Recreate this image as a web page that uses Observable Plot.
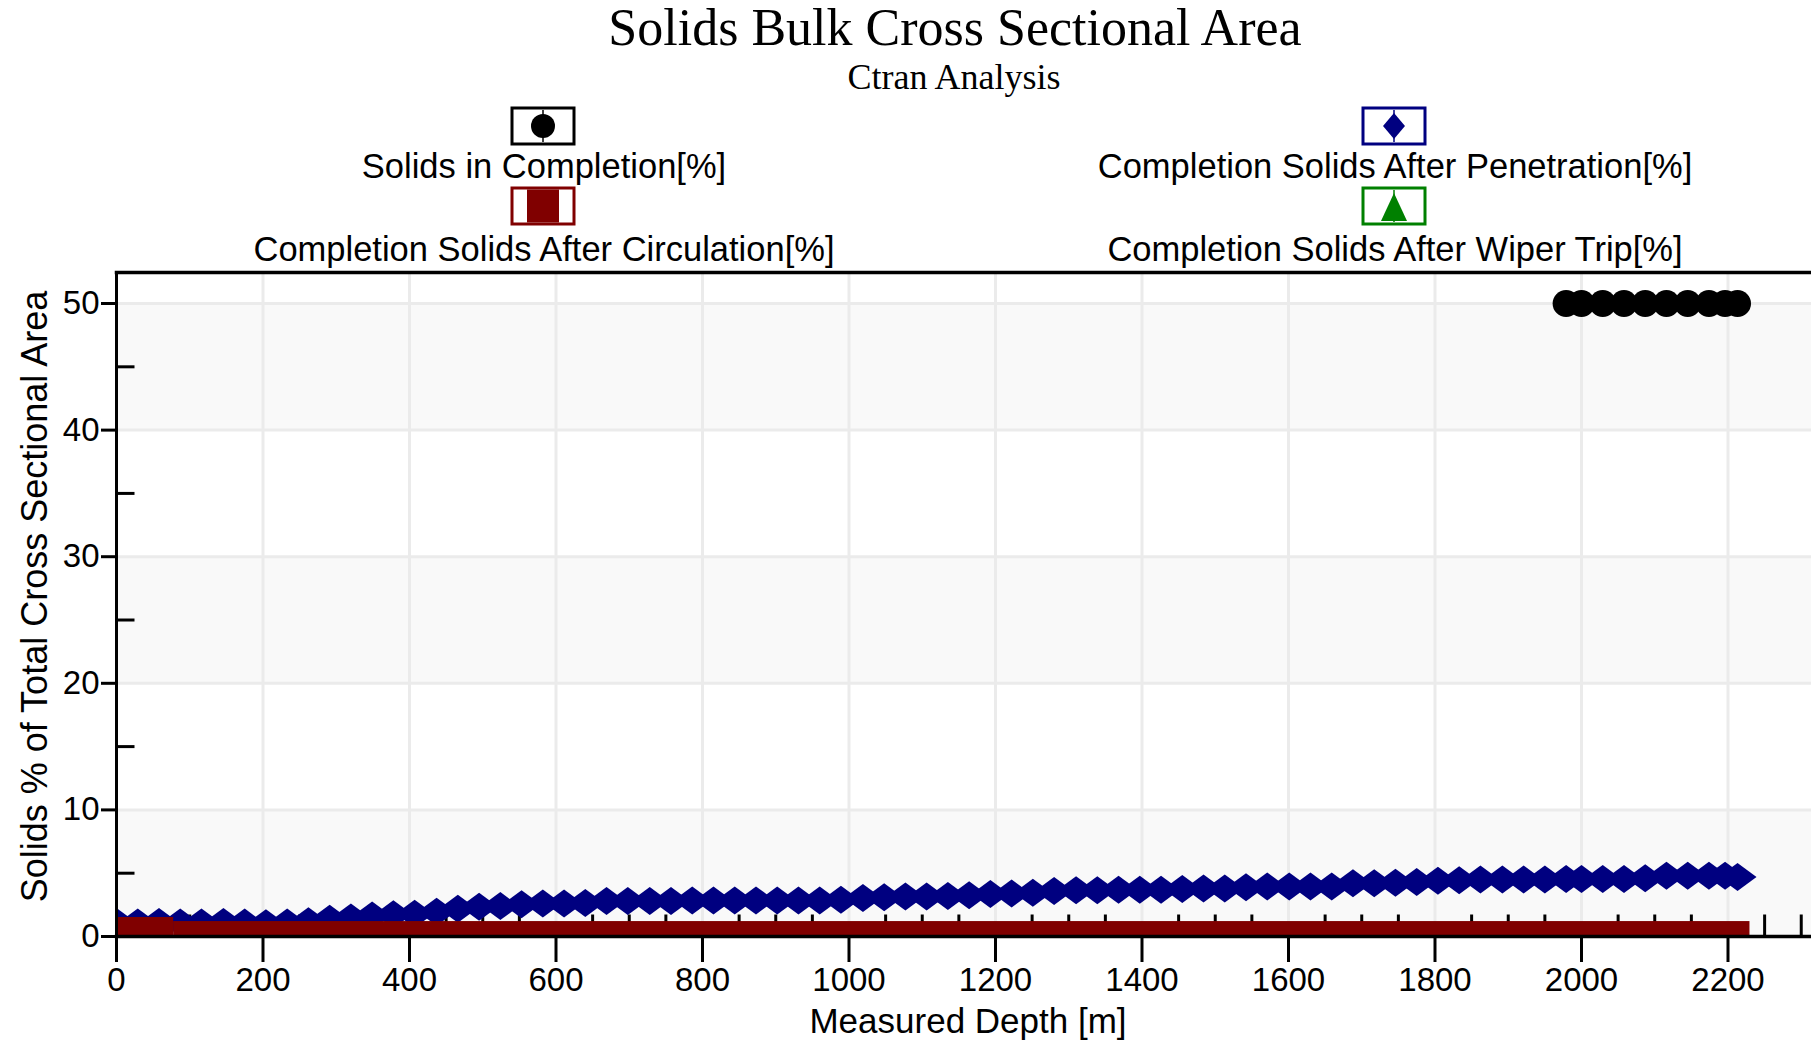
<!DOCTYPE html>
<html><head><meta charset="utf-8">
<script src="https://cdn.jsdelivr.net/npm/d3@7"></script>
<script src="https://cdn.jsdelivr.net/npm/@observablehq/plot@0.6"></script>
<style>
html,body{margin:0;padding:0;background:#fff;overflow:hidden;}
#header{position:relative;width:1811px;height:270px;}
#header svg{display:block;}
#chart svg{display:block;}
</style></head><body>
<div id="header"></div>
<div id="chart"></div>
<script>
// ---------- data ----------
const chartTitle = "Solids Bulk Cross Sectional Area";
const chartSubtitle = "Ctran Analysis";
const xLabel = "Measured Depth [m]";
const yLabel = "Solids % of Total Cross Sectional Area";
const seriesNames = [
  "Solids in Completion[%]",
  "Completion Solids After Penetration[%]",
  "Completion Solids After Circulation[%]",
  "Completion Solids After Wiper Trip[%]"
];
const seriesColors = ["#000000", "#000080", "#800000", "#008000"];

// Completion Solids After Penetration [%]
const penetrationDepth = [0, 29, 58, 87, 116, 146, 175, 204, 233, 262, 291, 320, 349, 378, 407, 437, 466, 495, 524, 553, 582, 611, 640, 669, 698, 728, 757, 786, 815, 844, 873, 902, 931, 960, 989, 1019, 1048, 1077, 1106, 1135, 1164, 1193, 1222, 1251, 1280, 1310, 1339, 1368, 1397, 1426, 1455, 1484, 1513, 1542, 1571, 1601, 1630, 1659, 1688, 1717, 1746, 1775, 1804, 1833, 1862, 1892, 1921, 1950, 1979, 2000, 2029, 2058, 2087, 2116, 2145, 2174, 2196, 2213];
const penetrationValue = [1.15, 1.1, 1.15, 1.1, 1.1, 1.15, 1.1, 1.05, 1.1, 1.2, 1.4, 1.5, 1.65, 1.75, 1.8, 1.95, 2.2, 2.35, 2.4, 2.55, 2.6, 2.6, 2.65, 2.8, 2.8, 2.8, 2.8, 2.85, 2.85, 2.85, 2.85, 2.85, 2.85, 2.85, 2.9, 3.05, 3.1, 3.15, 3.15, 3.2, 3.25, 3.35, 3.4, 3.45, 3.6, 3.65, 3.65, 3.7, 3.7, 3.7, 3.75, 3.8, 3.8, 3.9, 3.95, 3.95, 3.95, 3.95, 4.2, 4.2, 4.25, 4.3, 4.4, 4.45, 4.5, 4.5, 4.5, 4.5, 4.55, 4.55, 4.55, 4.55, 4.6, 4.8, 4.8, 4.8, 4.8, 4.7];

// Solids in Completion [%]
const completionDepth = [1979, 2000, 2029, 2058, 2087, 2116, 2145, 2174, 2196, 2213];
const completionValue = [50, 50, 50, 50, 50, 50, 50, 50, 50, 50];

// Completion Solids After Circulation [%] (bars)
const circulationStart = [0, 78];
const circulationEnd = [78, 2230];
const circulationValue = [1.5, 1.18];

// Axis ticks
const xTicks = [0, 200, 400, 600, 800, 1000, 1200, 1400, 1600, 1800, 2000, 2200];
const xMinorTicks = [50, 100, 150, 250, 300, 350, 450, 500, 550, 650, 700, 750, 850, 900, 950, 1050, 1100, 1150, 1250, 1300, 1350, 1450, 1500, 1550, 1650, 1700, 1750, 1850, 1900, 1950, 2050, 2100, 2150, 2250, 2300];
const yTicks = [0, 10, 20, 30, 40, 50];
const yMinorTicks = [5, 15, 25, 35, 45];
const bandStart = [0, 20, 40];
const bandEnd = [10, 30, 50];

// ---------- header (title + legend) ----------
const hdr = d3.select("#header").append("svg").attr("width", 1811).attr("height", 270);
hdr.append("text").attr("x", 955).attr("y", 45).attr("text-anchor", "middle")
  .style("font-family", "'Liberation Serif', 'Times New Roman', serif").style("font-size", "52px")
  .text(chartTitle);
hdr.append("text").attr("x", 954).attr("y", 89).attr("text-anchor", "middle")
  .style("font-family", "'Liberation Serif', 'Times New Roman', serif").style("font-size", "36px")
  .text(chartSubtitle);

const legendPos = [
  {cx: 543, iy: 108, ly: 178},
  {cx: 1394, iy: 108, ly: 178},
  {cx: 543, iy: 188, ly: 261},
  {cx: 1394, iy: 188, ly: 261}
];
seriesNames.forEach((name, i) => {
  const p = legendPos[i], c = seriesColors[i];
  const g = hdr.append("g");
  g.append("rect").attr("x", p.cx - 31).attr("y", p.iy).attr("width", 62).attr("height", 36)
    .attr("fill", "white").attr("stroke", c).attr("stroke-width", 3);
  const my = p.iy + 18;
  if (i !== 2) {
    g.append("line").attr("x1", p.cx).attr("x2", p.cx).attr("y1", p.iy + 2).attr("y2", p.iy + 34)
      .attr("stroke", c).attr("stroke-width", 1.5);
  }
  if (i === 0) {
    g.append("circle").attr("cx", p.cx).attr("cy", my).attr("r", 12).attr("fill", c);
  } else if (i === 1) {
    g.append("path").attr("d", `M${p.cx},${my - 13}L${p.cx + 11},${my}L${p.cx},${my + 13}L${p.cx - 11},${my}Z`).attr("fill", c);
  } else if (i === 2) {
    g.append("rect").attr("x", p.cx - 16).attr("y", p.iy + 1.5).attr("width", 32).attr("height", 33).attr("fill", c);
  } else {
    g.append("path").attr("d", `M${p.cx},${my - 13}L${p.cx + 13},${my + 15}L${p.cx - 13},${my + 15}Z`).attr("fill", c);
  }
  g.append("text").attr("x", p.cx + 1).attr("y", p.ly).attr("text-anchor", "middle")
    .style("font-family", "'Liberation Sans', Arial, sans-serif").style("font-size", "34.5px")
    .text(name);
});

// ---------- chart ----------
const penetration = penetrationDepth.map((d, i) => ({depth: d, value: penetrationValue[i]}));
const completion = completionDepth.map((d, i) => ({depth: d, value: completionValue[i]}));
const circulation = circulationStart.map((s, i) => ({x1: s, x2: circulationEnd[i], value: circulationValue[i]}));
const bands = bandStart.map((s, i) => ({y1: s, y2: bandEnd[i]}));

const tickShape = {draw(ctx, l) { ctx.moveTo(0, 0); ctx.lineTo(0, -l); }};
const wideDiamond = {draw(ctx) { ctx.moveTo(0, -14); ctx.lineTo(19, 0); ctx.lineTo(0, 14); ctx.lineTo(-19, 0); ctx.closePath(); }};

const chart = Plot.plot({
  width: 1811,
  height: 772,
  marginLeft: 116,
  marginRight: 0,
  marginTop: 2,
  marginBottom: 106,
  style: {fontFamily: "'Liberation Sans', Arial, sans-serif", background: "white", color: "black", overflow: "visible"},
  x: {domain: [0, 2314]},
  y: {domain: [0, 52.45]},
  marks: [
    Plot.rect(bands, {y1: "y1", y2: "y2", fill: "#f9f9f9"}),
    Plot.gridX({ticks: xTicks, stroke: "#ebebeb", strokeOpacity: 1, strokeWidth: 3}),
    Plot.gridY({ticks: yTicks, stroke: "#ebebeb", strokeOpacity: 1, strokeWidth: 3}),
    Plot.vector(xMinorTicks, {x: d => d, frameAnchor: "bottom", length: 22, anchor: "start", shape: tickShape, stroke: "black", strokeWidth: 3, strokeLinecap: "butt"}),
    Plot.vector(yMinorTicks, {y: d => d, frameAnchor: "left", length: 18, rotate: 90, anchor: "start", shape: tickShape, stroke: "black", strokeWidth: 3, strokeLinecap: "butt"}),
    Plot.dot(penetration, {x: "depth", y: "value", symbol: wideDiamond, fill: seriesColors[1], r: 10, clip: true}),
    Plot.rectY(circulation, {x1: "x1", x2: "x2", y: "value", fill: seriesColors[2]}),
    Plot.dot(completion, {x: "depth", y: "value", r: 13.5, fill: seriesColors[0]}),
    Plot.axisX({ticks: xTicks, tickSize: 26, tickPadding: 5, fontSize: 33, strokeWidth: 3, tickFormat: d => String(d), label: null}),
    Plot.axisY({ticks: yTicks, tickSize: 15, tickPadding: 2, fontSize: 33, strokeWidth: 3, tickFormat: d => String(d), label: null}),
    Plot.frame({anchor: "top", strokeWidth: 3.5}),
    Plot.frame({anchor: "left", strokeWidth: 3}),
    Plot.frame({anchor: "bottom", strokeWidth: 3.5}),
    Plot.text([xLabel], {text: d => d, frameAnchor: "bottom", textAnchor: "middle", lineAnchor: "top", dy: 72, dx: 4, fontSize: 35}),
    Plot.text([yLabel], {text: d => d, frameAnchor: "left", textAnchor: "middle", rotate: -90, dx: -81, dy: -8, fontSize: 36})
  ]
});
document.getElementById("chart").appendChild(chart);
</script>
</body></html>
